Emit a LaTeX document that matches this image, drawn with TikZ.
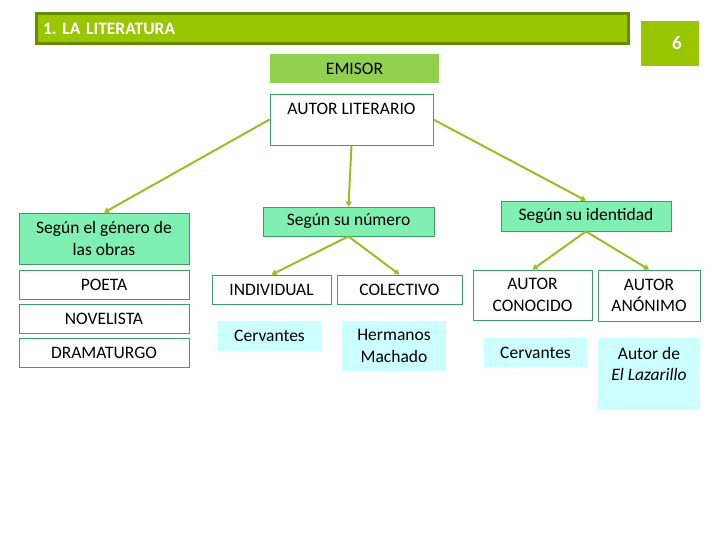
\documentclass[tikz,border=0pt]{standalone}
\usepackage{fontspec}
\setmainfont{Carlito}
\usetikzlibrary{arrows.meta}
\definecolor{titlegreen}{RGB}{153,198,0}
\definecolor{titleline}{RGB}{104,140,0}
\definecolor{emisorgreen}{RGB}{146,208,80}
\definecolor{mint}{RGB}{127,239,178}
\definecolor{boxline}{RGB}{60,160,100}
\definecolor{lightcyan}{RGB}{204,255,255}
\definecolor{arrowgreen}{RGB}{152,190,38}
\begin{document}
\frenchspacing
\begin{tikzpicture}[x=1pt,y=-1pt,
  every node/.style={font=\fontsize{17.5}{21.5}\selectfont, inner sep=0pt, align=center},
  titlebar/.style={draw=titleline, line width=3pt, fill=titlegreen},
  pagebox/.style={fill=titlegreen, text=white, font=\fontsize{19}{22}\selectfont\bfseries},
  emisorbox/.style={fill=emisorgreen},
  plainbox/.style={draw=boxline, line width=0.8pt, fill=white},
  mintbox/.style={draw=boxline, line width=0.8pt, fill=mint},
  cyanbox/.style={fill=lightcyan},
  conn/.style={draw=arrowgreen, line width=2pt, -{Triangle[length=5pt,width=6pt]}}
]
\useasboundingbox (0,0) rectangle (720,540);

\node[titlebar, minimum width=592, minimum height=30, text width=578, align=left,
      font=\fontsize{17.5}{19}\selectfont\bfseries, text=white] (title) at (332,29) {1. LA LITERATURA};
\node[pagebox, minimum width=58, minimum height=45] (six) at (670,43.5) {\hspace*{14pt}6};

\node[emisorbox, minimum width=169, minimum height=29] (emisor) at (354.5,68.5) {EMISOR};
\node[plainbox, minimum width=163, minimum height=51] (autor) at (351.5,119.5)
  {\parbox[c][50pt][t]{160pt}{\centering\vspace*{9pt}AUTOR LITERARIO}};

\node[mintbox, minimum width=170, minimum height=51] (genero) at (104,238.5) {Según el género de\\las obras};
\node[plainbox, minimum width=170, minimum height=29] (poeta) at (104,284.5) {POETA};
\node[plainbox, minimum width=170, minimum height=29] (novelista) at (104,318.5) {NOVELISTA};
\node[plainbox, minimum width=170, minimum height=29] (dramaturgo) at (104,352.5) {DRAMATURGO};

\node[mintbox, minimum width=171, minimum height=29] (numero) at (348.5,221.5) {Según su número};
\node[plainbox, minimum width=119, minimum height=29] (individual) at (271.5,289.5) {INDIVIDUAL};
\node[plainbox, minimum width=125, minimum height=29] (colectivo) at (399.5,289.5) {COLECTIVO};
\node[cyanbox, minimum width=103, minimum height=30] (cerv1) at (269.5,336) {Cervantes};
\node[cyanbox, minimum width=104, minimum height=50] (hermanos) at (394,346) {Hermanos\\Machado};

\node[mintbox, minimum width=170, minimum height=30] (identidad) at (586,216) {Según su identidad};
\node[plainbox, minimum width=119, minimum height=50] (conocido) at (532.5,295) {AUTOR\\CONOCIDO};
\node[plainbox, minimum width=102, minimum height=51] (anonimo) at (649,295.5) {AUTOR\\ANÓNIMO};
\node[cyanbox, minimum width=103, minimum height=29] (cerv2) at (535.5,352.5) {Cervantes};
\node[cyanbox, minimum width=102, minimum height=72] (lazarillo) at (649,374)
  {\parbox[c][72pt][t]{100pt}{\centering\vspace*{9pt}Autor de\\\textit{El Lazarillo}}};

\draw[conn] (autor.west) -- (genero.north);
\draw[conn] (autor.south) -- (numero.north);
\draw[conn] (autor.east) -- (identidad.north);
\draw[conn] (numero.south) -- (individual.north);
\draw[conn] (numero.south) -- (colectivo.north);
\draw[conn] (identidad.south) -- (conocido.north);
\draw[conn] (identidad.south) -- (anonimo.north);
\end{tikzpicture}
\end{document}
